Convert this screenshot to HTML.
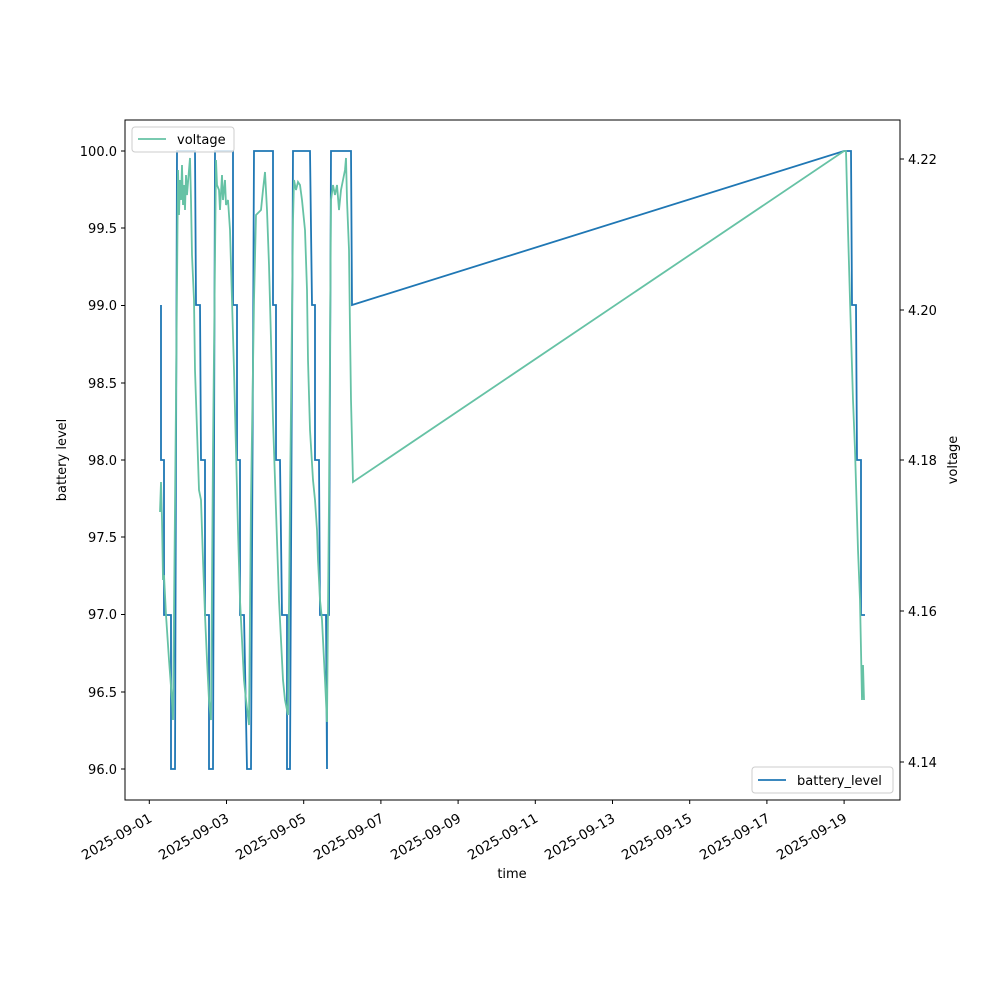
<!DOCTYPE html>
<html><head><meta charset="utf-8"><style>body{margin:0;background:#fff}svg{display:block;font-family:"DejaVu Sans","Liberation Sans",sans-serif}</style></head><body>
<svg width="1000" height="1000" viewBox="0 0 1000 1000" xmlns="http://www.w3.org/2000/svg">
<rect width="1000" height="1000" fill="#fff"/>
<g fill="none" stroke-linejoin="miter">
<polyline stroke="#1f77b4" stroke-width="1.8" points="161,305 161,460 164,460 164,615 171,615 171,769 175,769 177,151 195,151 196,305 200,305 201,460 205,460 205,615 209,615 209,769 213,769 215,151 233,151 233,305 237,305 237,460 240,460 240,615 244,615 247,769 251,769 254,151 273,151 273,305 276,305 276,460 280,460 282,615 287,615 287,769 290,769 293,151 310,151 312,305 315,305 315,460 319,460 320,615 323,615 326,615 327,769 327,615 329,615 331,151 351,151 352,305 844,151 851,151 852,305 856,305 857,460 861,460 861,615 865,615"/>
<polyline stroke="#66c2a5" stroke-width="1.8" points="160,512 161,482 162,520 163,580 164,575 166,615 169,660 172,700 173,720 176,400 178,170 179,215 180,180 181,200 182,165 183,205 184,185 185,210 186,175 187,195 189,170 190,158 191,200 192,255 194,300 195,370 197,430 199,490 201,500 203,560 205,615 207,660 209,700 211,720 213,450 216,160 217,185 219,190 220,210 222,175 223,200 225,180 226,205 228,200 230,230 232,300 234,370 236,450 238,530 240,600 242,640 244,680 246,700 249,725 251,500 254,300 256,215 259,212 261,210 263,190 265,172 267,210 269,265 271,340 273,420 275,480 277,540 279,600 281,640 283,680 285,700 288,715 290,500 293,220 294,180 296,190 298,182 300,185 302,200 305,230 307,290 308,360 310,430 313,480 315,500 317,530 318,560 320,600 322,620 325,680 327,722 329,500 331,200 333,185 335,195 337,185 339,210 341,190 343,180 345,170 346,158 347,200 349,250 350,330 351,400 353,482 844,151 846,151 848,230 850,300 853,400 855,450 858,550 860,600 862,700 863,665 864,700"/>
</g>
<rect x="125" y="120" width="775" height="680" fill="none" stroke="#000" stroke-width="1"/>
<g stroke="#000" stroke-width="1">
<line x1="125" y1="151" x2="121" y2="151"/><line x1="125" y1="305.5" x2="121" y2="305.5"/><line x1="125" y1="460" x2="121" y2="460"/><line x1="125" y1="614.5" x2="121" y2="614.5"/><line x1="125" y1="769" x2="121" y2="769"/>
<line x1="125" y1="228" x2="121" y2="228"/><line x1="125" y1="383" x2="121" y2="383"/><line x1="125" y1="537" x2="121" y2="537"/><line x1="125" y1="692" x2="121" y2="692"/>
<line x1="900" y1="159" x2="904" y2="159"/><line x1="900" y1="310" x2="904" y2="310"/><line x1="900" y1="460" x2="904" y2="460"/><line x1="900" y1="611" x2="904" y2="611"/><line x1="900" y1="762" x2="904" y2="762"/>
</g>
<g font-size="13" fill="#000" text-anchor="end">
<text x="117" y="156">100.0</text><text x="117" y="233">99.5</text><text x="117" y="310">99.0</text><text x="117" y="388">98.5</text><text x="117" y="465">98.0</text><text x="117" y="542">97.5</text><text x="117" y="619">97.0</text><text x="117" y="697">96.5</text><text x="117" y="774">96.0</text>
</g>
<g font-size="13" fill="#000">
<text x="908" y="164">4.22</text><text x="908" y="315">4.20</text><text x="908" y="465">4.18</text><text x="908" y="616">4.16</text><text x="908" y="767">4.14</text>
</g>
<g stroke="#000" stroke-width="1">
<line x1="149.3" y1="800" x2="149.3" y2="804"/><line x1="226.5" y1="800" x2="226.5" y2="804"/><line x1="303.7" y1="800" x2="303.7" y2="804"/><line x1="380.9" y1="800" x2="380.9" y2="804"/><line x1="458.1" y1="800" x2="458.1" y2="804"/><line x1="535.3" y1="800" x2="535.3" y2="804"/><line x1="612.5" y1="800" x2="612.5" y2="804"/><line x1="689.7" y1="800" x2="689.7" y2="804"/><line x1="766.9" y1="800" x2="766.9" y2="804"/><line x1="844.1" y1="800" x2="844.1" y2="804"/>
</g>
<g font-size="13.5" fill="#000" text-anchor="end">
<text transform="translate(153,821) rotate(-30)">2025-09-01</text>
<text transform="translate(230,821) rotate(-30)">2025-09-03</text>
<text transform="translate(307,821) rotate(-30)">2025-09-05</text>
<text transform="translate(385,821) rotate(-30)">2025-09-07</text>
<text transform="translate(462,821) rotate(-30)">2025-09-09</text>
<text transform="translate(539,821) rotate(-30)">2025-09-11</text>
<text transform="translate(616,821) rotate(-30)">2025-09-13</text>
<text transform="translate(693,821) rotate(-30)">2025-09-15</text>
<text transform="translate(771,821) rotate(-30)">2025-09-17</text>
<text transform="translate(848,821) rotate(-30)">2025-09-19</text>
</g>
<text x="512" y="878" font-size="13" text-anchor="middle">time</text>
<text transform="translate(66,460) rotate(-90)" font-size="13" text-anchor="middle">battery level</text>
<text transform="translate(957,460) rotate(-90)" font-size="13" text-anchor="middle">voltage</text>
<rect x="132" y="127" width="102" height="25" rx="3" fill="#fff" fill-opacity="0.8" stroke="#ccc"/>
<line x1="138" y1="139" x2="166" y2="139" stroke="#66c2a5" stroke-width="1.8"/>
<text x="177" y="144" font-size="13">voltage</text>
<rect x="752" y="767" width="141" height="26" rx="3" fill="#fff" fill-opacity="0.8" stroke="#ccc"/>
<line x1="758" y1="780" x2="786" y2="780" stroke="#1f77b4" stroke-width="1.8"/>
<text x="797" y="785" font-size="13">battery_level</text>
</svg>
</body></html>
